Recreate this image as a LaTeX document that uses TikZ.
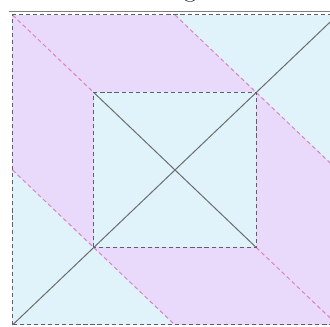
\documentclass[tikz,border=0pt]{standalone}
\usepackage{tikz}
\definecolor{paleblue}{RGB}{224,243,251}
\definecolor{palepurple}{RGB}{233,218,251}
\definecolor{pinkdash}{RGB}{220,130,188}
\definecolor{framegray}{RGB}{95,95,105}
\tikzstyle{squareframe} = [draw=framegray, line width=0.85pt, dash pattern=on 3.5pt off 2.5pt]
\tikzstyle{guide} = [draw=pinkdash, line width=0.85pt, dash pattern=on 3.5pt off 2.5pt]
\tikzstyle{diag} = [draw=gray!85!black, line width=0.85pt]

\begin{document}
\begin{tikzpicture}[x=2.4375cm, y=2.325cm]
        \useasboundingbox (-0.1538,-0.0258) rectangle (3.9077,4.1935);
        % corners
        \coordinate (o1) at (0,0);
        \coordinate (o2) at (4,0);
        \coordinate (o3) at (4,4);
        \coordinate (o4) at (0,4);
        \coordinate (i1) at (1,1);
        \coordinate (i2) at (3,1);
        \coordinate (i3) at (3,3);
        \coordinate (i4) at (1,3);
        \coordinate (l) at (0,2);
        \coordinate (b) at (2,0);
        \coordinate (t) at (2,4);
        \coordinate (r) at (4,2);

        \node[anchor=base, inner sep=0pt, font=\fontsize{24}{28}\selectfont] (title) at (2.185,4.235) {g};
        \draw[gray, line width=0.7pt] (-0.043,4.0516) -- (4.2,4.0516);

        \fill[paleblue] (o1) rectangle (o3);
        \fill[palepurple] (l) -- (o4) -- (t) -- (r) -- (o2) -- (b) -- cycle;
        \fill[paleblue] (i1) rectangle (i3);

        \draw[guide] (o4) -- (i4);
        \draw[guide] (i2) -- (o2);
        \draw[guide] (t) -- (r);
        \draw[guide] (l) -- (b);

        \draw[diag] (o1) -- (o3);
        \draw[diag] (i4) -- (i2);

        \draw[squareframe] (o1) rectangle (o3);
        \draw[squareframe] (i1) rectangle (i3);
\end{tikzpicture}
\end{document}
